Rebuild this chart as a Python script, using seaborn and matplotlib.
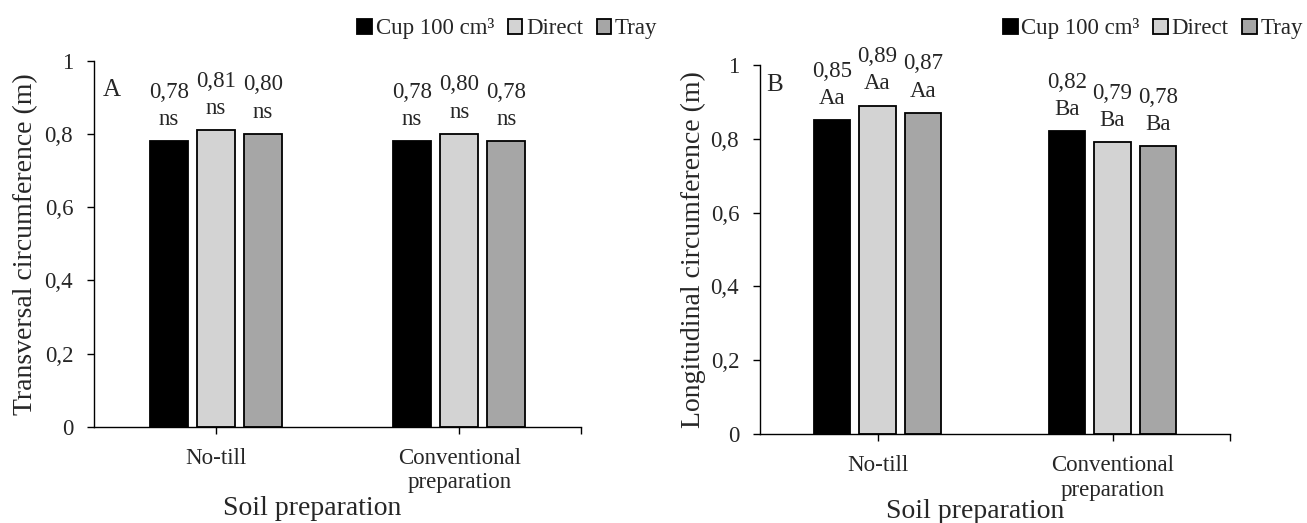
import matplotlib
matplotlib.use("Agg")
import matplotlib.pyplot as plt
from matplotlib.patches import Patch
import seaborn as sns
import pandas as pd

# ---- data ----
categories = ["No-till", "Conventional\npreparation"]
containers = ["Cup 100 cm³", "Direct", "Tray"]

# panel A: transversal circumference (m), rows = containers, cols = categories
a_cup = [0.78, 0.78]
a_direct = [0.81, 0.80]
a_tray = [0.80, 0.78]
a_letters_cup = ["ns", "ns"]
a_letters_direct = ["ns", "ns"]
a_letters_tray = ["ns", "ns"]

# panel B: longitudinal circumference (m)
b_cup = [0.85, 0.82]
b_direct = [0.89, 0.79]
b_tray = [0.87, 0.78]
b_letters_cup = ["Aa", "Ba"]
b_letters_direct = ["Aa", "Ba"]
b_letters_tray = ["Aa", "Ba"]

y_ticks = [0, 0.2, 0.4, 0.6, 0.8, 1.0]
y_ticklabels = ["0", "0,2", "0,4", "0,6", "0,8", "1"]

colors = {"Cup 100 cm³": "#000000", "Direct": "#D3D3D3", "Tray": "#A6A6A6"}

sns.set_style("white")
plt.rcParams["font.family"] = ["Liberation Serif", "DejaVu Serif"]
SMALL = 16.5
BIG = 20

fig = plt.figure(figsize=(13.07, 5.23), dpi=100)
axA = fig.add_axes([94/1307, 1-426.7/523, (581-94)/1307, (426.7-60.7)/523])
axB = fig.add_axes([760/1307, 1-434/523, (1230-760)/1307, (434-65)/523])


def make_df(series):
    rows = []
    for cont, vals in zip(containers, series):
        for cat, v in zip(categories, vals):
            rows.append({"prep": cat, "container": cont, "value": v})
    return pd.DataFrame(rows)


def draw(ax, series, letters, ylabel, panel, xlab_pos, ylab_x, letter_pos,
         leg_anchor, cat_linespacing):
    df = make_df(series)
    sns.barplot(data=df, x="prep", y="value", hue="container", order=categories,
                hue_order=containers, palette=colors, width=0.58, gap=0.19,
                edgecolor="black", linewidth=1.3, legend=False, ax=ax,
                errorbar=None, saturation=1)
    for cont_i, cont in enumerate(ax.containers):
        for cat_i, bar in enumerate(cont.patches):
            v = series[cont_i][cat_i]
            lab = f"{v:.2f}".replace(".", ",") + "\n" + letters[cont_i][cat_i]
            ax.annotate(lab, xy=(bar.get_x() + bar.get_width()/2, bar.get_height()),
                        xytext=(0, 8), textcoords="offset points",
                        ha="center", va="bottom", fontsize=SMALL, linespacing=1.4)
    ax.set_ylim(0, 1)
    ax.set_xlim(-0.5, 1.5)
    ax.set_yticks(y_ticks)
    ax.set_yticklabels(y_ticklabels, fontsize=SMALL)
    ax.set_xticks([0, 1])
    ax.set_xticklabels(categories, fontsize=SMALL, linespacing=cat_linespacing)
    ax.set_xticks([1.5], minor=True)
    for s in ["top", "right"]:
        ax.spines[s].set_visible(False)
    for s in ["left", "bottom"]:
        ax.spines[s].set_color("black")
        ax.spines[s].set_linewidth(1.0)
    ax.tick_params(axis="both", which="both", direction="out", length=5,
                   width=1.0, color="black", left=True, bottom=True)
    ax.tick_params(axis="y", pad=10)
    ax.tick_params(axis="x", pad=10)
    ax.set_ylabel(ylabel, fontsize=BIG)
    ax.yaxis.set_label_coords(ylab_x, 0.5)
    ax.set_xlabel("Soil preparation", fontsize=BIG)
    ax.xaxis.set_label_coords(*xlab_pos)
    ax.grid(False)
    ax.text(letter_pos[0], letter_pos[1], panel, transform=ax.transAxes,
            ha="left", va="top", fontsize=18)
    handles = [Patch(facecolor=colors[c], edgecolor="black", linewidth=1.3)
               for c in containers]
    ax.legend(handles, containers, loc="center right", bbox_to_anchor=leg_anchor,
              bbox_transform=fig.transFigure, ncol=3, frameon=False,
              fontsize=SMALL, handlelength=0.65, handleheight=0.65,
              handletextpad=0.15, columnspacing=0.6, borderpad=0, borderaxespad=0)


draw(axA, [a_cup, a_direct, a_tray],
     [a_letters_cup, a_letters_direct, a_letters_tray],
     "Transversal circumference (m)", "A",
     (0.448, -0.19), -0.115, (0.018, 0.95), (0.503, 0.945), 1.2)
draw(axB, [b_cup, b_direct, b_tray],
     [b_letters_cup, b_letters_direct, b_letters_tray],
     "Longitudinal circumference (m)", "B",
     (0.457, -0.175), -0.115, (0.013, 0.975), (0.997, 0.945), 1.25)

fig.savefig("out.png", dpi=100)
